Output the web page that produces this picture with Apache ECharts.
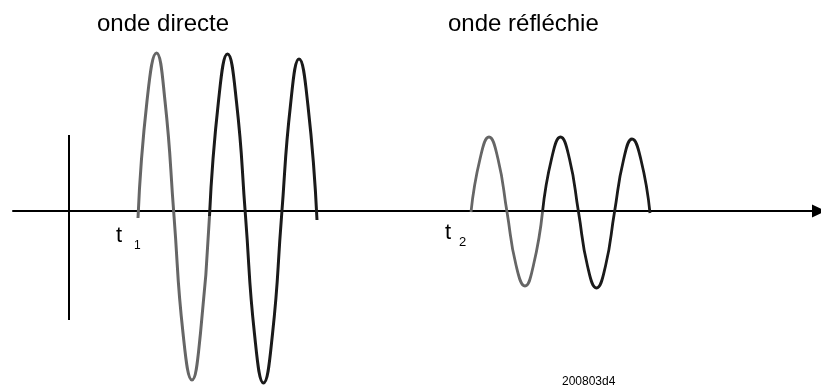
<!doctype html>
<html>
<head>
<meta charset="UTF-8">
<title>onde directe / onde réfléchie</title>
<script src="https://cdn.jsdelivr.net/npm/echarts@6/dist/echarts.min.js"></script>
<style>
  html, body { margin: 0; padding: 0; background: #fff; }
  #main { width: 821px; height: 387px; }
</style>
</head>
<body>
<div id="main"></div>
<script type="text/javascript">
// temps (1 unité = 10 px environ), amplitude
var directeT = [6.90, 7.80, 8.75, 9.60, 10.50, 11.40, 12.30, 13.15, 14.05, 14.95, 15.85,
                16.75, 17.65, 18.55, 19.45, 20.35, 21.25, 22.15, 23.00, 23.90, 24.80];
var directeA = [-0.07, 1.10, 1.58, 1.10, -0.05, -1.22, -1.69, -1.22, -0.05, 1.10, 1.57,
                1.09, -0.05, -1.23, -1.72, -1.23, -0.06, 1.06, 1.52, 1.05, -0.09];

var reflechieT = [40.20, 41.10, 42.00, 42.90, 43.80, 44.70, 45.60, 46.45, 47.35, 48.25, 49.15,
                  50.05, 50.95, 51.85, 52.75, 53.65, 54.55, 55.45, 56.30, 57.20, 58.10];
var reflechieA = [-0.01, 0.52, 0.74, 0.52, -0.01, -0.54, -0.75, -0.54, -0.01, 0.52, 0.74,
                  0.52, -0.01, -0.55, -0.77, -0.55, -0.01, 0.51, 0.72, 0.51, -0.02];

// la première période est en gris, le reste en noir
var splitIndex = 8;

// trait vertical de l'origine
var origineT = [0, 0];
var origineA = [0.76, -1.09];

var titres = ['onde directe', 'onde réfléchie'];
var reference = '200803d4';

function paires(t, a, from, to) {
    var out = [];
    for (var i = from; i <= to; i++) {
        out.push([t[i], a[i]]);
    }
    return out;
}

function onde(name, data, color, width) {
    return {
        name: name,
        type: 'line',
        data: data,
        smooth: 0.5,
        showSymbol: false,
        silent: true,
        z: 3,
        lineStyle: { color: color, width: width }
    };
}

var gris = '#666666';
var noir = '#1a1a1a';
var police = '"Liberation Sans", Arial, sans-serif';

var myChart = echarts.init(document.getElementById('main'));

var option = {
    animation: false,
    backgroundColor: '#ffffff',
    grid: { left: 13, right: 2, top: 11, bottom: 0 },
    xAxis: {
        type: 'value',
        min: -5.6,
        max: 75.0,
        axisLine: {
            show: true,
            onZero: true,
            symbol: ['none', 'triangle'],
            symbolSize: [13, 14],
            lineStyle: { color: '#000', width: 2 }
        },
        axisTick: { show: false },
        axisLabel: { show: false },
        splitLine: { show: false }
    },
    yAxis: {
        type: 'value',
        min: -1.76,
        max: 2.0,
        show: false,
        splitLine: { show: false }
    },
    series: [
        {
            type: 'line',
            data: paires(origineT, origineA, 0, 1),
            showSymbol: false,
            silent: true,
            lineStyle: { color: '#000', width: 2 }
        },
        onde('directe-1', paires(directeT, directeA, 0, splitIndex), gris, 3),
        onde('directe-2', paires(directeT, directeA, splitIndex, directeT.length - 1), noir, 3),
        onde('reflechie-1', paires(reflechieT, reflechieA, 0, splitIndex), gris, 2.8),
        onde('reflechie-2', paires(reflechieT, reflechieA, splitIndex, reflechieT.length - 1), noir, 2.8)
    ],
    graphic: [
        { type: 'text', left: 97, top: 12, style: { text: titres[0], font: '24px ' + police, fill: '#000' } },
        { type: 'text', left: 448, top: 12, style: { text: titres[1], font: '24px ' + police, fill: '#000' } },
        { type: 'text', left: 116, top: 225, style: { text: 't', font: '22px ' + police, fill: '#000' } },
        { type: 'text', left: 134, top: 240, style: { text: '1', font: '12px ' + police, fill: '#000' } },
        { type: 'text', left: 445, top: 222, style: { text: 't', font: '22px ' + police, fill: '#000' } },
        { type: 'text', left: 459, top: 236, style: { text: '2', font: '13px ' + police, fill: '#000' } },
        { type: 'text', left: 562, top: 376, style: { text: reference, font: '12px ' + police, fill: '#000' } }
    ]
};

myChart.setOption(option);
</script>
</body>
</html>
